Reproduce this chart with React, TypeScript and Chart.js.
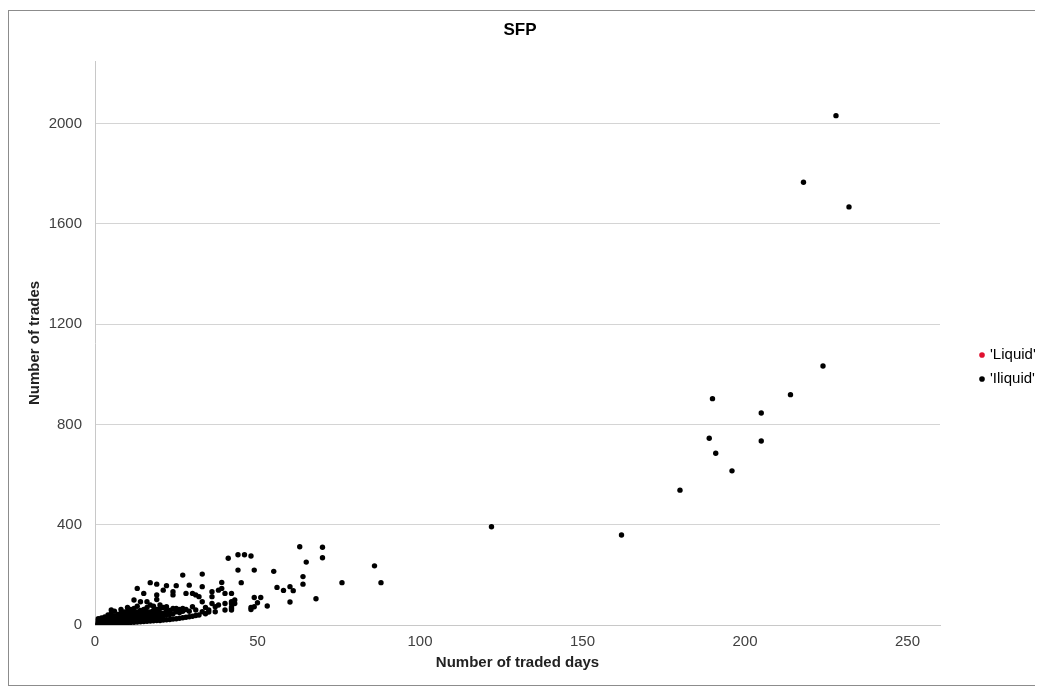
import React, { useEffect, useRef } from 'react';
import { Chart, registerables } from 'chart.js';

Chart.register(...registerables);

const TITLE = 'SFP';
const X_TITLE = 'Number of traded days';
const Y_TITLE = 'Number of trades';
const SERIES_NAMES = ["'Liquid'", "'Iliquid'"];
const X_TICKS = [0, 50, 100, 150, 200, 250];
const Y_TICKS = [0, 400, 800, 1200, 1600, 2000];

// [traded days, trades]
const liquidPoints: [number, number][] = [];

const illiquidPoints: [number, number][] = [
  [1, 1], [1, 2], [1, 3], [1, 5], [1, 8], [1, 12], [1, 18], [1, 25],
  [2, 2], [2, 4], [2, 6], [2, 10], [2, 15], [2, 20], [2, 28],
  [3, 3], [3, 5], [3, 8], [3, 12], [3, 18], [3, 24], [3, 32],
  [4, 4], [4, 7], [4, 10], [4, 14], [4, 20], [4, 28], [4, 40],
  [5, 5], [5, 8], [5, 12], [5, 16], [5, 22], [5, 30], [5, 45], [5, 60],
  [6, 6], [6, 10], [6, 14], [6, 19], [6, 26], [6, 35], [6, 55],
  [7, 7], [7, 11], [7, 16], [7, 22], [7, 30], [7, 42],
  [8, 8], [8, 12], [8, 18], [8, 25], [8, 33], [8, 48], [8, 62],
  [9, 9], [9, 14], [9, 20], [9, 28], [9, 38], [9, 52],
  [10, 8], [10, 15], [10, 22], [10, 30], [10, 40], [10, 55], [10, 70],
  [11, 10], [11, 17], [11, 24], [11, 33], [11, 45], [11, 62],
  [12, 11], [12, 18], [12, 26], [12, 36], [12, 48], [12, 66], [12, 100],
  [13, 12], [13, 20], [13, 28], [13, 40], [13, 52], [13, 75], [13, 146],
  [14, 13], [14, 22], [14, 30], [14, 42], [14, 58], [14, 93],
  [15, 14], [15, 24], [15, 33], [15, 45], [15, 62], [15, 126],
  [16, 15], [16, 26], [16, 36], [16, 50], [16, 70], [16, 93],
  [17, 16], [17, 28], [17, 38], [17, 52], [17, 80], [17, 169],
  [18, 17], [18, 30], [18, 42], [18, 58], [18, 75],
  [19, 18], [19, 32], [19, 45], [19, 62], [19, 102], [19, 120], [19, 163],
  [20, 18], [20, 34], [20, 48], [20, 66], [20, 80],
  [21, 20], [21, 36], [21, 47], [21, 70], [21, 139],
  [22, 21], [22, 40], [22, 55], [22, 73], [22, 157],
  [23, 22], [23, 42], [23, 58],
  [24, 24], [24, 45], [24, 66], [24, 120], [24, 133],
  [25, 25], [25, 53], [25, 66], [25, 157],
  [26, 27], [26, 50], [26, 62],
  [27, 29], [27, 55], [27, 66], [27, 199],
  [28, 31], [28, 62], [28, 126],
  [29, 33], [29, 55], [29, 159],
  [30, 35], [30, 73], [30, 126],
  [31, 38], [31, 60], [31, 120],
  [32, 40], [32, 113],
  [33, 53], [33, 93], [33, 153], [33, 203],
  [34, 45], [34, 70],
  [35, 60], [35, 52],
  [36, 86], [36, 113], [36, 133],
  [37, 53], [37, 73],
  [38, 80], [38, 139],
  [39, 146], [39, 170],
  [40, 60], [40, 86], [40, 126],
  [41, 266],
  [42, 60], [42, 66], [42, 86], [42, 93], [42, 126], [42, 72],
  [43, 86], [43, 100],
  [44, 219], [44, 280],
  [45, 169],
  [46, 280],
  [48, 62], [48, 70], [48, 275],
  [49, 73], [49, 110], [49, 219],
  [50, 89],
  [51, 110],
  [53, 76],
  [55, 214],
  [56, 150],
  [58, 138],
  [60, 92], [60, 153],
  [61, 137],
  [63, 312], [64, 163], [64, 193], [65, 251],
  [68, 105], [70, 268], [70, 310], [76, 169], [86, 236], [88, 169],
  [122, 392], [162, 359], [180, 538], [189, 745], [190, 903], [191, 685],
  [196, 615], [205, 734], [205, 846], [214, 919], [218, 1766], [224, 1033],
  [228, 2032], [232, 1668],
];

const FONT = "'Liberation Sans', Arial, sans-serif";

const legendPlacer = {
  id: 'legendPlacer',
  afterLayout(chart: any) {
    const lg = chart.legend;
    if (!lg) return;
    lg.left = chart.chartArea.right + 32.5;
    lg.right = lg.left + 90;
    lg.top = 50;
    lg.bottom = 662;
  },
};

export default function App() {
  const ref = useRef<HTMLCanvasElement | null>(null);

  useEffect(() => {
    if (!ref.current) return;
    const chart = new Chart(ref.current, {
      type: 'scatter',
      data: {
        datasets: [
          {
            label: SERIES_NAMES[0],
            data: liquidPoints.map(([x, y]) => ({ x, y })),
            backgroundColor: '#e0102f',
            borderColor: '#e0102f',
            pointRadius: 2.7,
            borderWidth: 0,
            pointStyle: 'circle',
          },
          {
            label: SERIES_NAMES[1],
            data: illiquidPoints.map(([x, y]) => ({ x, y })),
            backgroundColor: '#000000',
            borderColor: '#000000',
            pointRadius: 2.7,
            borderWidth: 0,
            pointStyle: 'circle',
          },
        ],
      },
      options: {
        animation: false,
        responsive: false,
        maintainAspectRatio: false,
        layout: { padding: { left: 13, right: 24, top: 0, bottom: 9 } },
        plugins: {
          title: {
            display: true,
            text: TITLE,
            color: '#000',
            font: { family: FONT, size: 17, weight: 'bold' },
            padding: { top: 9, bottom: 20.6 },
          },
          legend: {
            position: 'right',
            maxWidth: 40,
            labels: {
              usePointStyle: true,
              pointStyle: 'circle',
              boxWidth: 1,
              boxHeight: 4,
              padding: 9,
              color: '#000',
              font: { family: FONT, size: 15 },
            },
          },
          tooltip: { enabled: false },
        },
        scales: {
          x: {
            type: 'linear',
            min: 0,
            max: 260,
            afterBuildTicks: (s: any) => {
              s.ticks = X_TICKS.map((v) => ({ value: v }));
            },
            afterFit: (s: any) => {
              s.height = 51;
            },
            grid: { display: false, drawTicks: false },
            border: { display: true, color: '#c8c8c8' },
            ticks: {
              padding: 8,
              color: '#404040',
              font: { family: FONT, size: 15 },
              callback: (v: any) => String(v),
            },
            title: {
              display: true,
              text: X_TITLE,
              color: '#222',
              font: { family: FONT, size: 15, weight: 'bold' },
              padding: { top: 4, bottom: 4 },
            },
          },
          y: {
            type: 'linear',
            min: 0,
            max: 2250,
            afterBuildTicks: (s: any) => {
              s.ticks = Y_TICKS.map((v) => ({ value: v }));
            },
            afterFit: (s: any) => {
              s.width = 73;
            },
            grid: { color: '#d4d4d4', drawTicks: false },
            border: { display: true, color: '#c8c8c8' },
            ticks: {
              padding: 13,
              color: '#404040',
              font: { family: FONT, size: 15 },
              callback: (v: any) => String(v),
            },
            title: {
              display: true,
              text: Y_TITLE,
              color: '#222',
              font: { family: FONT, size: 15, weight: 'bold' },
              padding: { top: 4, bottom: 4 },
            },
          },
          gap: {
            type: 'linear',
            position: 'right',
            display: true,
            afterFit: (s: any) => {
              s.width = 38;
            },
            grid: { display: false, drawTicks: false },
            border: { display: false },
            ticks: { display: false },
          },
        },
      },
      plugins: [legendPlacer],
    } as any);
    return () => chart.destroy();
  }, []);

  return (
    <div
      style={{
        marginTop: 2,
        width: 1035,
        height: 676,
        boxSizing: 'border-box',
        border: '1px solid #8c8c8c',
        background: '#fff',
      }}
    >
      <canvas ref={ref} width={1033} height={674} style={{ display: 'block', width: 1033, height: 674 }} />
    </div>
  );
}
